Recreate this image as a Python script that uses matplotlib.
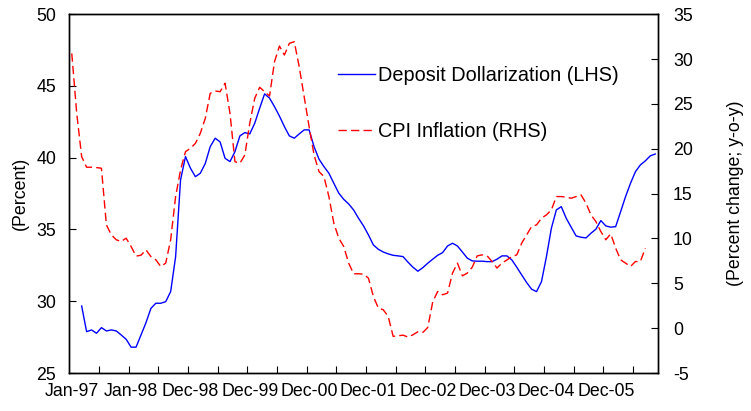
import numpy as np
import matplotlib
matplotlib.use("Agg")
import matplotlib.pyplot as plt
from matplotlib.ticker import FixedLocator, MultipleLocator

plt.rcParams['font.family'] = ['Liberation Sans', 'DejaVu Sans']
plt.rcParams['axes.unicode_minus'] = False

# Monthly observations (category axis), Jan-97 onwards
tick_labels = ["Jan-97", "Jan-98", "Dec-98", "Dec-99", "Dec-00",
               "Dec-01", "Dec-02", "Dec-03", "Dec-04", "Dec-05"]

# Deposit dollarization (percent, LHS)
dollarization = [
    None, None, 29.67, 27.88, 28.0, 27.77, 28.16, 27.93, 28.0, 27.93,
    27.65, 27.35, 26.8, 26.8, 27.65, 28.5, 29.5, 29.86, 29.86, 29.97,
    30.67, 33.1, 38.45, 40.08, 39.27, 38.68, 38.92, 39.6, 40.77, 41.36,
    41.1, 39.96, 39.73, 40.42, 41.52, 41.75, 41.66, 42.4, 43.45, 44.45,
    44.15, 43.56, 42.9, 42.17, 41.52, 41.36, 41.66, 41.94, 41.94, 40.77,
    39.9, 39.38, 38.92, 38.22, 37.53, 37.1, 36.78, 36.36, 35.78, 35.25,
    34.62, 33.92, 33.62, 33.43, 33.3, 33.2, 33.16, 33.11, 32.72, 32.37,
    32.09, 32.34, 32.65, 32.93, 33.2, 33.39, 33.85, 34.04, 33.85, 33.43,
    33.0, 32.81, 32.79, 32.79, 32.76, 32.76, 32.93, 33.16, 33.16, 32.88,
    32.37, 31.83, 31.3, 30.84, 30.67, 31.37, 33.11, 35.09, 36.36, 36.59,
    35.78, 35.16, 34.55, 34.46, 34.41, 34.74, 35.02, 35.62, 35.25, 35.16,
    35.2, 36.24, 37.29, 38.22, 39.03, 39.5, 39.78, 40.13, 40.26,
]

# CPI inflation (percent change y-o-y, RHS)
cpi_inflation = [
    30.63, 23.95, 19.12, 17.94, 17.94, 17.9, 17.83, 11.51, 10.4, 9.85,
    9.66, 10.03, 9.1, 8.03, 8.13, 8.73, 7.98, 7.62, 6.87, 7.25,
    9.85, 14.67, 17.64, 19.68, 20.05, 20.6, 21.72, 23.39, 26.18, 26.44,
    26.36, 27.3, 23.95, 18.56, 18.38, 19.31, 22.84, 25.62, 26.85, 26.36,
    25.88, 29.7, 31.45, 30.45, 31.75, 31.93, 29.14, 25.8, 22.46, 19.31,
    17.45, 16.9, 14.67, 11.7, 10.03, 9.1, 7.25, 6.06, 6.06, 6.02,
    5.58, 3.53, 2.24, 2.05, 1.3, -0.92, -0.85, -0.78, -1.0, -0.74,
    -0.4, -0.48, 0.08, 2.93, 4.09, 3.72, 3.91, 6.14, 7.25, 5.83,
    6.14, 6.8, 8.06, 8.17, 8.06, 7.43, 6.7, 7.25, 7.6, 7.98,
    8.17, 9.48, 10.4, 11.33, 11.51, 12.26, 12.63, 13.18, 14.67, 14.67,
    14.6, 14.48, 14.67, 14.85, 13.93, 12.63, 11.88, 10.77, 9.85, 10.51,
    8.92, 7.62, 7.25, 6.87, 7.43, 7.43, 8.92, None, None,
]

dep = np.array(dollarization, dtype=float)
cpi = np.array(cpi_inflation, dtype=float)
n = len(dep)
x = np.arange(n)

W, H = 751, 411
fig = plt.figure(figsize=(W / 100, H / 100), dpi=100)
left, right, top, bottom = 69.3, 657.7, 14.2, 373.0
ax = fig.add_axes([left / W, 1 - bottom / H, (right - left) / W, (bottom - top) / H])
ax2 = ax.twinx()

l1, = ax.plot(x, dep, color='#0000FF', lw=1.0, label='Deposit Dollarization (LHS)')
l2, = ax2.plot(x, cpi, color='#FF0000', lw=1.0, dashes=(6, 3), label='CPI Inflation (RHS)')

ax.set_xlim(-0.5, n - 0.5)
ax.set_ylim(25, 50)
ax2.set_ylim(-5, 35)
ax.yaxis.set_major_locator(MultipleLocator(5))
ax2.yaxis.set_major_locator(MultipleLocator(5))

label_pos = np.arange(len(tick_labels)) * 12
ax.set_xticks(label_pos)
ax.set_xticklabels(tick_labels)
ax.xaxis.set_minor_locator(FixedLocator(np.arange(5.5, n - 1, 6)))
ax.tick_params(axis='x', which='major', length=0, pad=7, labelsize=12.8)
ax.tick_params(axis='x', which='minor', direction='in', length=5, width=0.8, color='black')
ax.tick_params(axis='y', direction='in', length=5, width=0.8, pad=9.5, labelsize=12.8)
ax2.tick_params(axis='y', direction='in', length=5, width=0.8, pad=11, labelsize=12.8)

for a in (ax, ax2):
    for s in a.spines.values():
        s.set_linewidth(1.0)
        s.set_color('black')

fig.text(20 / W, 1 - 193.5 / H, '(Percent)', rotation=90, ha='center', va='center', fontsize=12.8)
fig.text(735 / W, 1 - 193.5 / H, '(Percent change; y-o-y)', rotation=90, ha='center', va='center', fontsize=12.8)

leg = ax2.legend(handles=[l1, l2], loc='center left',
                 bbox_to_anchor=(338.3 / W, 1 - 103.5 / H), bbox_transform=fig.transFigure,
                 frameon=False, fontsize=14.3, handlelength=1.85, handletextpad=0.15,
                 labelspacing=1.86, borderpad=0, borderaxespad=0)

fig.savefig('out.png', dpi=100)
